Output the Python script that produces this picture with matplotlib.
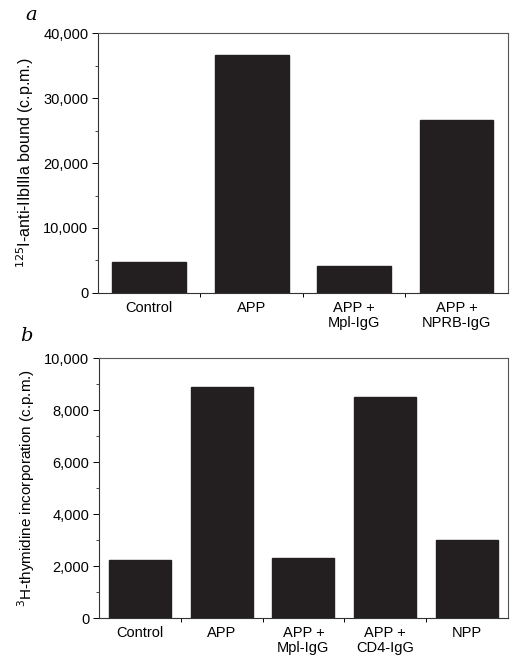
import matplotlib
matplotlib.use("Agg")
import matplotlib.pyplot as plt
import numpy as np
from matplotlib.ticker import FuncFormatter, MultipleLocator, FixedLocator

plt.rcParams['font.family'] = ['Liberation Sans', 'DejaVu Sans']

cats_a = ["Control", "APP", "APP +\nMpl-IgG", "APP +\nNPRB-IgG"]
vals_a = [4700, 36600, 4100, 26600]
yticks_a = [0, 10000, 20000, 30000, 40000]

cats_b = ["Control", "APP", "APP +\nMpl-IgG", "APP +\nCD4-IgG", "NPP"]
vals_b = [2250, 8900, 2300, 8500, 3000]
yticks_b = [0, 2000, 4000, 6000, 8000, 10000]

bar_color = "#231f20"
fmt = FuncFormatter(lambda v, p: f"{int(v):,}")

fig = plt.figure(figsize=(5.11, 6.59), dpi=100)
ax_a = fig.add_axes([0.1918, 0.5554, 0.802, 0.3945])
ax_b = fig.add_axes([0.1937, 0.0622, 0.800, 0.3945])


def style(ax, cats, vals, yticks, width, minor_step, ylabel, ylsize):
    x = np.arange(len(cats))
    ax.bar(x, vals, width=width, color=bar_color, edgecolor=bar_color)
    ax.set_xlim(-0.5, len(cats) - 0.5)
    ax.set_ylim(yticks[0], yticks[-1])
    ax.set_yticks(yticks)
    ax.yaxis.set_major_formatter(fmt)
    ax.yaxis.set_minor_locator(MultipleLocator(minor_step))
    ax.set_xticks(x)
    ax.set_xticklabels(cats, fontsize=10.5, linespacing=1.1)
    ax.xaxis.set_minor_locator(FixedLocator(np.arange(0.5, len(cats) - 0.5, 1.0)))
    ax.tick_params(axis='x', which='major', length=0, pad=6)
    ax.tick_params(axis='x', which='minor', length=3, width=0.7, direction='out')
    ax.tick_params(axis='y', which='major', length=4, width=0.7, labelsize=10.5, pad=3)
    ax.tick_params(axis='y', which='minor', length=2, width=0.5)
    for s in ax.spines.values():
        s.set_linewidth(0.8)
        s.set_color("#555555")
    ax.spines['left'].set_color("#333333")
    ax.spines['bottom'].set_color("#333333")
    ax.set_ylabel(ylabel, fontsize=ylsize, labelpad=5)


style(ax_a, cats_a, vals_a, yticks_a, 0.72, 5000,
      r"$^{125}$I-anti-IIbIIIa bound (c.p.m.)", 11.5)
style(ax_b, cats_b, vals_b, yticks_b, 0.76, 1000,
      r"$^{3}$H-thymidine incorporation (c.p.m.)", 11)

fig.text(25 / 511, 1 - 15 / 659, "a", fontsize=14, style='italic',
         family=['DejaVu Serif'], ha='left', va='center')
fig.text(20 / 511, 1 - 336 / 659, "b", fontsize=14, style='italic',
         family=['DejaVu Serif'], ha='left', va='center')

fig.savefig("out.png", dpi=100)
